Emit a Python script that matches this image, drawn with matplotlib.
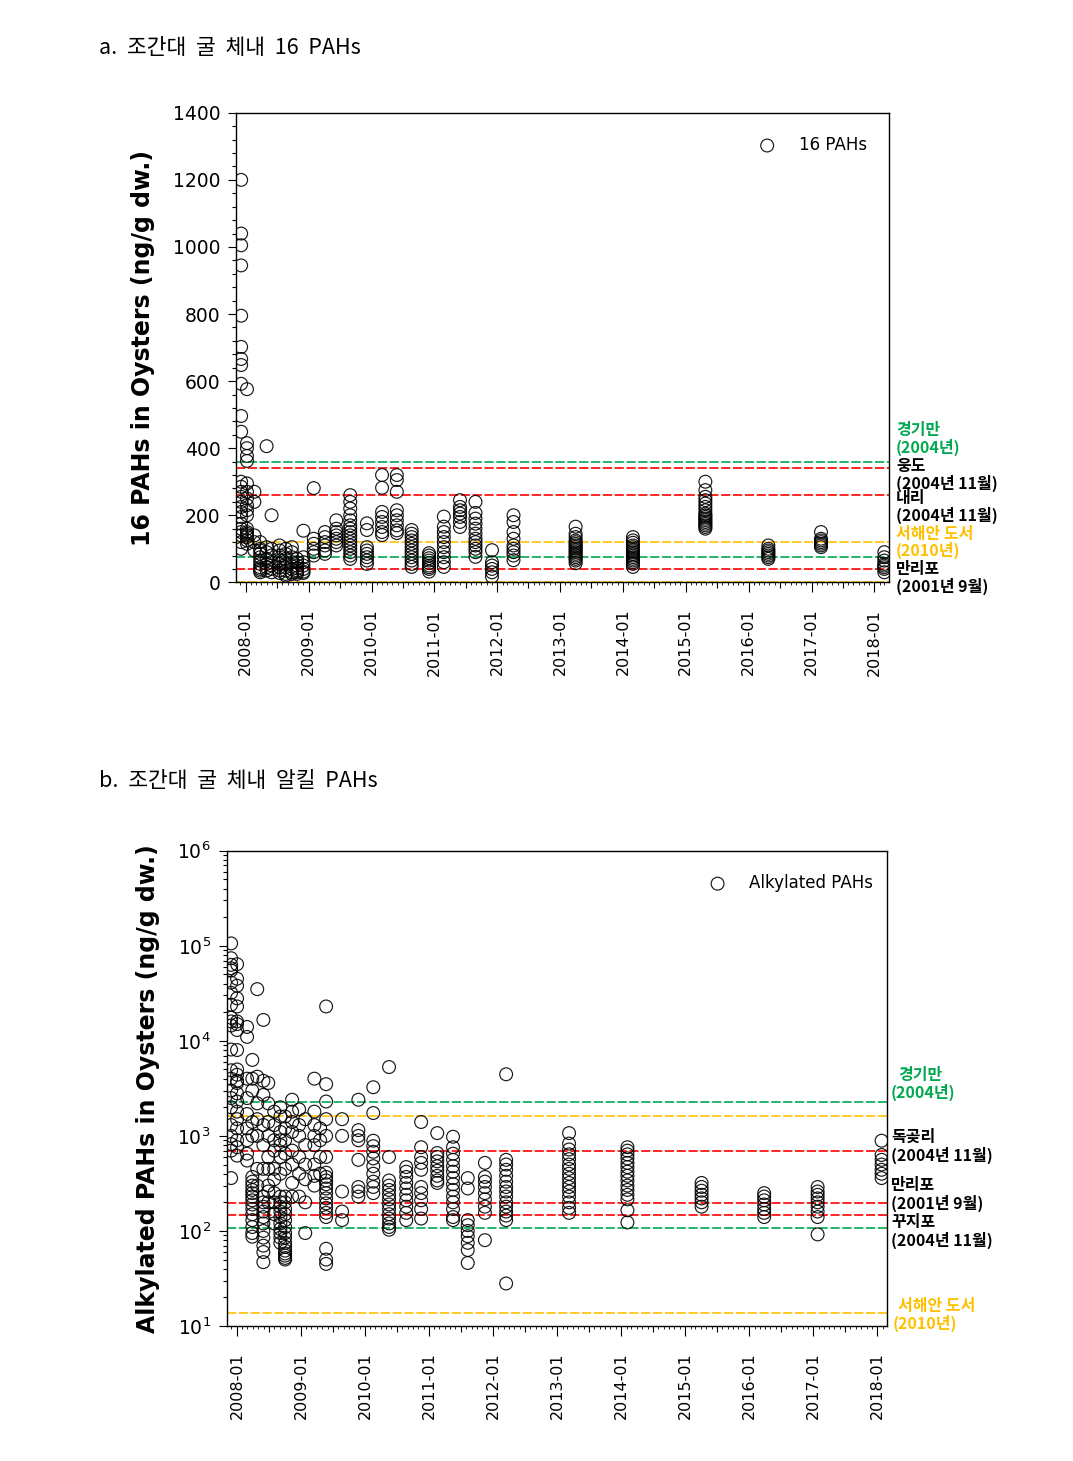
import matplotlib
matplotlib.use("Agg")
import matplotlib.pyplot as plt
import matplotlib.dates as mdates
import pandas as pd
from matplotlib.ticker import MultipleLocator, LogLocator, NullFormatter

plt.rcParams['font.family'] = ['DejaVu Sans', 'Noto Sans CJK KR']

# ---- 16 PAHs (ng/g dw), one list of values per sampling date
pah16_dates = ["2007-12-05", "2008-01-08", "2008-02-20", "2008-03-25", "2008-05-01", "2008-05-30",
               "2008-07-15", "2008-08-20", "2008-09-25", "2008-10-25", "2008-12-01", "2009-01-30",
               "2009-04-05", "2009-06-10", "2009-08-30", "2009-12-05", "2010-03-03", "2010-05-28",
               "2010-08-22", "2010-12-01", "2011-02-25", "2011-05-30", "2011-08-28", "2011-12-02",
               "2012-04-05", "2013-04-01", "2014-02-28", "2015-04-25", "2016-04-25", "2017-02-25",
               "2018-02-28"]
pah16_values = [
    [1200, 1040, 1005, 945, 795, 702, 666, 648, 592, 496, 449, 300, 285, 270, 255, 240, 225, 210, 195,
     175, 160, 150, 140, 120, 100],
    [576, 415, 400, 377, 362, 295, 270, 250, 230, 215, 200, 160, 150, 145, 140, 135, 125, 115],
    [270, 240, 140, 120, 95],
    [120, 100, 95, 85, 75, 65, 55, 45, 40, 35, 30],
    [406, 105, 90, 70, 55, 45, 35],
    [200, 100, 80, 60, 50, 40, 30],
    [110, 95, 80, 65, 55, 45, 35, 28],
    [100, 85, 70, 55, 45, 35, 25, 20],
    [105, 90, 75, 60, 48, 40, 30, 25],
    [70, 60, 50, 42, 35, 30, 25],
    [154, 75, 60, 50, 40, 32, 28],
    [281, 130, 115, 100, 90, 80],
    [150, 135, 120, 110, 95, 85],
    [185, 160, 150, 140, 130, 120, 110],
    [260, 240, 220, 200, 185, 170, 160, 150, 140, 130, 120, 110, 100, 90, 80, 70],
    [176, 156, 105, 95, 85, 75, 65, 55],
    [320, 282, 210, 195, 180, 165, 150, 141],
    [320, 305, 270, 215, 200, 185, 170, 155, 147],
    [156, 145, 135, 125, 115, 105, 95, 85, 75, 65, 55, 46],
    [87, 80, 72, 65, 58, 50, 45, 40, 32],
    [196, 166, 150, 135, 120, 105, 90, 75, 60, 46],
    [245, 225, 215, 205, 195, 180, 165],
    [240, 207, 190, 175, 160, 145, 130, 120, 110, 100, 90, 76],
    [96, 60, 50, 40, 30, 17],
    [200, 180, 150, 130, 110, 100, 90, 80, 66],
    [166, 145, 135, 125, 120, 115, 110, 105, 100, 95, 90, 85, 80, 75, 70, 65, 57],
    [135, 125, 118, 110, 105, 100, 95, 90, 85, 80, 75, 70, 65, 60, 55, 46],
    [300, 275, 255, 245, 235, 225, 215, 205, 200, 195, 190, 185, 180, 175, 170, 165, 160],
    [110, 100, 95, 90, 85, 80, 75, 70],
    [150, 130, 125, 120, 115, 110, 105],
    [90, 75, 65, 55, 50, 45, 40, 30],
]

# ---- Alkylated PAHs (ng/g dw)
alkyl_dates = ["2007-11-29", "2008-01-02", "2008-02-28", "2008-03-29", "2008-04-26", "2008-05-31",
               "2008-06-28", "2008-08-01", "2008-09-05", "2008-10-02", "2008-11-11", "2008-12-21",
               "2009-01-25", "2009-03-18", "2009-04-20", "2009-05-24", "2009-08-23", "2009-11-24",
               "2010-02-17", "2010-05-18", "2010-08-24", "2010-11-17", "2011-02-17", "2011-05-18",
               "2011-08-10", "2011-11-16", "2012-03-16", "2013-03-10", "2014-02-06", "2015-04-05",
               "2016-03-27", "2017-01-26", "2018-01-26"]
alkyl_values = [
    [106000, 74000, 63000, 58000, 55000, 41000, 32000, 24000, 17500, 16000, 14500, 8100, 4900, 4000,
     3000, 2500, 2000, 1300, 1000, 820, 700, 360],
    [64000, 45000, 38000, 28000, 23000, 16000, 15000, 13000, 8000, 5000, 4400, 3800, 3600, 2800, 2300,
     1800, 1500, 1200, 900, 760, 620],
    [14000, 11000, 4000, 2500, 1700, 1200, 900, 650, 550],
    [6300, 4000, 3000, 1400, 1000, 370, 330, 300, 270, 250, 230, 210, 190, 170, 150, 130, 110, 95, 87],
    [35000, 4200, 2200, 1500, 1000, 450, 300],
    [16600, 3800, 2700, 1300, 800, 450, 230, 200, 180, 160, 140, 120, 100, 85, 70, 60, 47],
    [3600, 2200, 1400, 1000, 600, 450, 300, 260, 200],
    [1800, 1300, 900, 700, 450, 350, 250, 200, 150, 120],
    [2000, 1600, 1100, 900, 800, 600, 400, 230, 200, 180, 160, 140, 120, 105, 95, 85, 75],
    [1600, 1200, 900, 650, 450, 230, 200, 170, 150, 130, 110, 95, 85, 75, 68, 62, 58, 55, 52, 50],
    [2400, 1800, 1400, 1100, 700, 500, 320, 230],
    [1900, 1300, 1000, 600, 400, 230],
    [1500, 800, 500, 350, 200, 95],
    [4000, 1800, 1300, 1000, 800, 500, 380, 300],
    [1200, 900, 600, 400],
    [23000, 3500, 2300, 1500, 1000, 600, 410, 370, 340, 310, 280, 250, 220, 195, 175, 155, 140, 65, 50, 45],
    [1500, 1000, 260, 160, 130],
    [2400, 1150, 1000, 900, 560, 290, 260, 230],
    [3250, 1740, 890, 780, 680, 580, 480, 400, 330, 290, 250],
    [5300, 600, 340, 300, 270, 240, 215, 190, 170, 150, 135, 120, 110, 103],
    [470, 420, 370, 320, 280, 240, 210, 180, 155, 130],
    [1400, 760, 600, 520, 440, 290, 250, 210, 170, 135],
    [1070, 660, 600, 540, 480, 430, 380, 340, 320],
    [980, 760, 650, 560, 480, 420, 360, 310, 270, 230, 200, 170, 140, 130],
    [360, 280, 130, 115, 100, 88, 75, 63, 46],
    [520, 370, 330, 290, 250, 215, 180, 155, 80],
    [4450, 560, 500, 440, 380, 330, 290, 260, 230, 200, 180, 160, 145, 130, 28],
    [1070, 830, 720, 640, 570, 500, 450, 400, 360, 320, 290, 260, 230, 200, 175, 155],
    [760, 700, 640, 580, 520, 470, 420, 380, 340, 300, 270, 240, 215, 165, 123],
    [320, 290, 265, 240, 220, 200, 180],
    [250, 230, 210, 190, 170, 155, 140],
    [290, 260, 240, 220, 200, 180, 160, 140, 92],
    [890, 630, 560, 500, 440, 400, 360],
]

# ---- reference levels from other surveys
pah16_green = [360, 75]
pah16_red = [340, 260, 40]
pah16_yellow = [120, 1]
alkyl_green = [2270, 107]
alkyl_yellow = [1620, 13.7]
alkyl_red = [693, 197, 147]

GREEN = "#00A850"
RED = "#FF0000"
YELLOW = "#FFC000"
KFONT = "Noto Sans CJK KR"

W, H = 1073, 1461
fig = plt.figure(figsize=(W / 100, H / 100), dpi=100)


def px_text(x, y, s, **kw):
    fig.text(x / W, 1 - y / H, s, **kw)


def explode(dates, values):
    xs, ys = [], []
    for d, vals in zip(dates, values):
        xs += [pd.Timestamp(d)] * len(vals)
        ys += vals
    return xs, ys


def style_axes(ax, xmin, xmax):
    ax.set_xlim(pd.Timestamp(xmin), pd.Timestamp(xmax))
    ax.xaxis.set_major_locator(mdates.YearLocator())
    ax.xaxis.set_major_formatter(mdates.DateFormatter('%Y-%m'))
    ax.xaxis.set_minor_locator(mdates.MonthLocator(bymonth=7))
    ax.tick_params(axis='x', which='major', length=7, width=0.8, labelsize=11.5,
                   labelrotation=90, pad=12)
    ax.tick_params(axis='x', which='minor', length=4, width=0.8)
    ax.tick_params(axis='y', which='major', length=5.5, width=0.8, labelsize=13.5, pad=6)
    ax.tick_params(axis='y', which='minor', length=3, width=0.8)
    for sp in ax.spines.values():
        sp.set_linewidth(1.0)
    monthly = ax.secondary_xaxis('bottom')
    monthly.xaxis.set_major_locator(mdates.MonthLocator())
    monthly.xaxis.set_major_formatter(NullFormatter())
    monthly.tick_params(length=2, width=0.6)
    monthly.spines['bottom'].set_visible(False)


def guides(ax, levels, color):
    for v in levels:
        ax.axhline(v, color=color, lw=1.2, ls=(0, (5.5, 1.6)), zorder=1)


# ---------------- a. 16 PAHs
ax1 = fig.add_axes([0.2204, 0.6014, 0.6084, 0.3214])
x, y = explode(pah16_dates, pah16_values)
ax1.scatter(x, y, s=85, facecolors='none', edgecolors='black', linewidths=0.85, alpha=0.9,
            zorder=3, label='16 PAHs')
guides(ax1, pah16_green, GREEN)
guides(ax1, pah16_red, RED)
guides(ax1, pah16_yellow, YELLOW)
ax1.set_ylim(0, 1400)
ax1.yaxis.set_major_locator(MultipleLocator(200))
ax1.yaxis.set_minor_locator(MultipleLocator(40))
style_axes(ax1, "2007-11-08", "2018-03-29")
ax1.set_ylabel('16 PAHs in Oysters (ng/g dw.)', fontsize=17, fontweight='bold')
ax1.yaxis.set_label_coords(-0.125, 0.5)
ax1.legend(loc='upper right', bbox_to_anchor=(0.976, 0.965), frameon=False, fontsize=12,
           handletextpad=0.9, borderaxespad=0)

# ---------------- b. alkylated PAHs
ax2 = fig.add_axes([0.2113, 0.0924, 0.6149, 0.3253])
x, y = explode(alkyl_dates, alkyl_values)
ax2.scatter(x, y, s=85, facecolors='none', edgecolors='black', linewidths=0.85, alpha=0.9,
            zorder=3, label='Alkylated PAHs')
guides(ax2, alkyl_green, GREEN)
guides(ax2, alkyl_yellow, YELLOW)
guides(ax2, alkyl_red, RED)
ax2.set_yscale('log')
ax2.set_ylim(10, 1e6)
ax2.yaxis.set_major_locator(LogLocator(base=10, numticks=10))
ax2.yaxis.set_minor_locator(LogLocator(base=10, subs=range(2, 10), numticks=20))
ax2.yaxis.set_minor_formatter(NullFormatter())
style_axes(ax2, "2007-11-04", "2018-02-23")
ax2.set_ylabel('Alkylated PAHs in Oysters (ng/g dw.)', fontsize=17, fontweight='bold')
ax2.yaxis.set_label_coords(-0.101, 0.5)
ax2.legend(loc='upper right', bbox_to_anchor=(0.99, 0.965), frameon=False, fontsize=12,
           handletextpad=0.9, borderaxespad=0)

# ---------------- titles and survey labels
px_text(99, 48, 'a.  조간대  굴  체내  16  PAHs', family=KFONT, fontsize=15.5, va='center')
px_text(99, 781, 'b.  조간대  굴  체내  알킬  PAHs', family=KFONT, fontsize=15.5, va='center')

top_labels = [(896, 430, '경기만', GREEN), (896, 447, '(2004년)', GREEN),
              (896, 466, '웅도', 'black'), (896, 483, '(2004년 11월)', 'black'),
              (896, 498, '내리', 'black'), (896, 515, '(2004년 11월)', 'black'),
              (896, 534, '서해안 도서', YELLOW), (896, 550, '(2010년)', YELLOW),
              (896, 569, '만리포', 'black'), (896, 586, '(2001년 9월)', 'black')]
bottom_labels = [(898, 1075, '경기만', GREEN), (891, 1092, '(2004년)', GREEN),
                 (891, 1137, '독곶리', 'black'), (891, 1155, '(2004년 11월)', 'black'),
                 (891, 1185, '만리포', 'black'), (891, 1203, '(2001년 9월)', 'black'),
                 (891, 1222, '꾸지포', 'black'), (891, 1240, '(2004년 11월)', 'black'),
                 (898, 1306, '서해안 도서', YELLOW), (893, 1323, '(2010년)', YELLOW)]
for px, py, s, c in top_labels + bottom_labels:
    px_text(px, py, s, family=KFONT, fontsize=11.5, fontweight='bold', color=c, va='center')

fig.savefig('out.png', dpi=100)
